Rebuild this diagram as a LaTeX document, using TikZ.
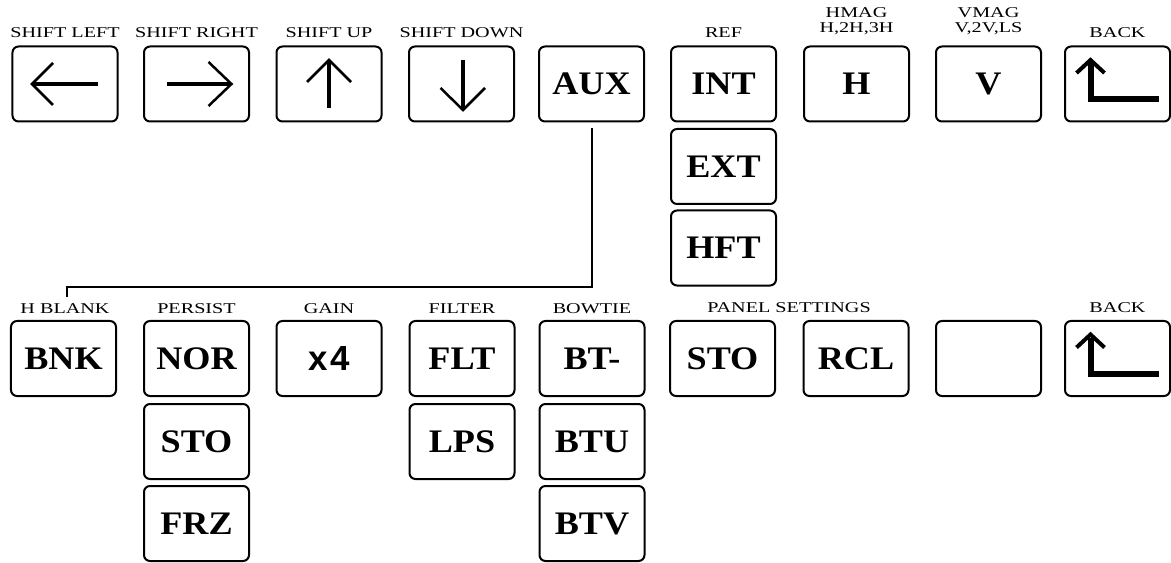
\documentclass[tikz,border=0pt]{standalone}
\usepackage{fontspec}
\usepackage{graphicx}
\setmainfont{Liberation Serif}
\newfontfamily\keysans{Liberation Sans}
\newcommand\keytxt[1]{\scalebox{1.1}[1]{#1}}
\newcommand\labtxt[1]{\scalebox{1.35}[1]{#1}}
\begin{document}
\begin{tikzpicture}[x=1bp,y=-1bp,
  key/.style={draw, line width=2bp, rounded corners=6bp, minimum width=105bp,
    minimum height=75bp, inner sep=0pt, font=\fontsize{33}{33}\selectfont\bfseries},
  lbl/.style={inner sep=0pt, anchor=base, font=\fontsize{15}{15}\selectfont},
  conn/.style={line width=2bp},
  shaft/.style={line width=4.5bp},
  head/.style={line width=2.5bp, line join=miter},
  bshaft/.style={line width=6bp, line join=miter},
  bhead/.style={line width=4bp, line join=miter}]
\fill[white] (0,0) rectangle (1171,563);
\useasboundingbox (0,0) rectangle (1171,563);

% ---- top row ----
\node[key] (sl) at (65,84) {};
\node[key] (sr) at (196.5,84) {};
\node[key] (su) at (329,84) {};
\node[key] (sd) at (461.5,84) {};
\node[key] (aux) at (591.5,84) {\keytxt{AUX}};
\node[key] (int) at (723.5,84) {\keytxt{INT}};
\node[key] (ext) at (723.5,166.5) {\keytxt{EXT}};
\node[key] (hft) at (723.5,248) {\keytxt{HFT}};
\node[key] (hm) at (856.5,84) {\keytxt{H}};
\node[key] (vm) at (988.5,84) {\keytxt{V}};
\node[key] (bk1) at (1117.5,84) {};

% top labels
\node[lbl] (lsl) at (65,38) {\labtxt{SHIFT LEFT}};
\node[lbl] (lsr) at (196.5,38) {\labtxt{SHIFT RIGHT}};
\node[lbl] (lsu) at (329,38) {\labtxt{SHIFT UP}};
\node[lbl] (lsd) at (461.5,38) {\labtxt{SHIFT DOWN}};
\node[lbl] (lref) at (723.5,38) {\labtxt{REF}};
\node[lbl] (lhm1) at (856.5,18) {\labtxt{HMAG}};
\node[lbl] (lhm2) at (856.5,32.5) {\labtxt{H,2H,3H}};
\node[lbl] (lvm1) at (988.5,18) {\labtxt{VMAG}};
\node[lbl] (lvm2) at (988.5,32.5) {\labtxt{V,2V,LS}};
\node[lbl] (lbk1) at (1117.5,37.5) {\labtxt{BACK}};

% ---- bottom row ----
\node[key] (bnk) at (63.5,358.5) {\keytxt{BNK}};
\node[key] (nor) at (196.5,358.5) {\keytxt{NOR}};
\node[key] (sto1) at (196.5,441.5) {\keytxt{STO}};
\node[key] (frz) at (196.5,523.5) {\keytxt{FRZ}};
\node[key] (gain) at (329,358.5) {\keysans\fontsize{35}{35}\selectfont x\hspace{3bp}4};
\node[key] (flt) at (462,358.5) {\keytxt{FLT}};
\node[key] (lps) at (462,441.5) {\keytxt{LPS}};
\node[key] (btm) at (592,358.5) {\keytxt{BT-}};
\node[key] (btu) at (592,441.5) {\keytxt{BTU}};
\node[key] (btv) at (592,523.5) {\keytxt{BTV}};
\node[key] (sto2) at (722.5,358.5) {\keytxt{STO}};
\node[key] (rcl) at (856,358.5) {\keytxt{RCL}};
\node[key] (blank) at (988.5,358.5) {};
\node[key] (bk2) at (1117.5,358.5) {};

% bottom labels
\node[lbl] (lhb) at (65,314) {\labtxt{H BLANK}};
\node[lbl] (lpe) at (196.5,314) {\labtxt{PERSIST}};
\node[lbl] (lga) at (329,314) {\labtxt{GAIN}};
\node[lbl] (lfi) at (462,314) {\labtxt{FILTER}};
\node[lbl] (lbo) at (592,314) {\labtxt{BOWTIE}};
\node[lbl] (lps2) at (789,313) {\labtxt{PANEL SETTINGS}};
\node[lbl] (lbk2) at (1117.5,313) {\labtxt{BACK}};

% ---- connector AUX -> H BLANK ----
\coordinate (hb) at (67,297);
\draw[conn] ([yshift=-6bp]aux.south) -- (aux.south |- 0,287) -| (hb);

% ---- arrow glyphs ----
% left
\draw[shaft] ([shift={(-32,0)}]sl.center) -- ([shift={(33,0)}]sl.center);
\draw[head] ([shift={(-12,-21)}]sl.center) -- ([shift={(-33,0)}]sl.center) -- ([shift={(-12,21)}]sl.center);
% right
\draw[shaft] ([shift={(-30,0)}]sr.center) -- ([shift={(34,0)}]sr.center);
\draw[head] ([shift={(12,-22)}]sr.center) -- ([shift={(35,0)}]sr.center) -- ([shift={(12,22)}]sr.center);
% up
\draw[shaft] ([shift={(0,24)}]su.center) -- ([shift={(0,-23)}]su.center);
\draw[head] ([shift={(-22,-2)}]su.center) -- ([shift={(0,-24)}]su.center) -- ([shift={(22,-2)}]su.center);
% down
\draw[shaft] ([shift={(1.5,-24)}]sd.center) -- ([shift={(1.5,25)}]sd.center);
\draw[head] ([shift={(-21,4)}]sd.center) -- ([shift={(1.5,26)}]sd.center) -- ([shift={(23.5,4)}]sd.center);
% back arrows
\foreach \b in {bk1,bk2}{
  \draw[bshaft] ([shift={(-27,-21)}]\b.center) -- ([shift={(-27,15)}]\b.center) -- ([shift={(41,15)}]\b.center);
  \draw[bhead] ([shift={(-41,-11)}]\b.center) -- ([shift={(-27,-24)}]\b.center) -- ([shift={(-13,-11)}]\b.center);
}
\end{tikzpicture}
\end{document}
